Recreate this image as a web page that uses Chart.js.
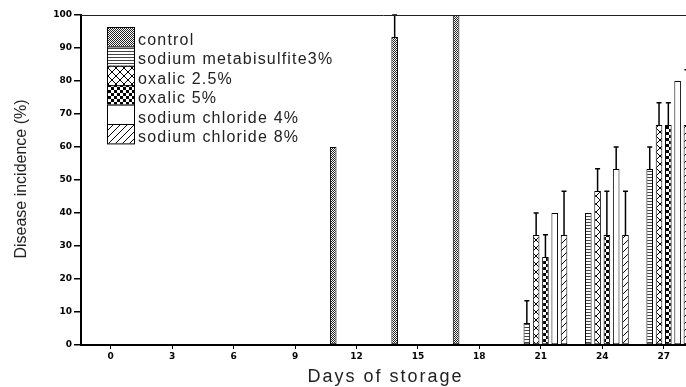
<!DOCTYPE html>
<html>
<head>
<meta charset="utf-8">
<script src="https://cdn.jsdelivr.net/npm/chart.js@4.4.1/dist/chart.umd.min.js"></script>
<style>
  html, body { margin: 0; padding: 0; background: #fff; }
</style>
</head>
<body>
<canvas id="incidenceChart" width="686" height="387"></canvas>
<script>
// days of storage (x axis) and bar values
const days = [0, 3, 6, 9, 12, 15, 18, 21, 24, 27];
const seriesNames = ["control", "sodium metabisulfite3%", "oxalic 2.5%", "oxalic 5%", "sodium chloride 4%", "sodium chloride 8%"];

const control          = [0, 0, 0, 0, 60, 93.3, 100, null, null, null];
const controlErr       = [0, 0, 0, 0, 0, 6.7, 0, null, null, null];
const metabisulfite    = [0, 0, 0, 0, 0, 0, 0, 6.7, 40, 53.3];
const metabisulfiteErr = [0, 0, 0, 0, 0, 0, 0, 6.7, 0, 6.7];
const oxalic25         = [0, 0, 0, 0, 0, 0, 0, 33.3, 46.7, 66.7];
const oxalic25Err      = [0, 0, 0, 0, 0, 0, 0, 6.7, 6.7, 6.7];
const oxalic5          = [0, 0, 0, 0, 0, 0, 0, 26.7, 33.3, 66.7];
const oxalic5Err       = [0, 0, 0, 0, 0, 0, 0, 6.7, 13.3, 6.7];
const nacl4            = [0, 0, 0, 0, 0, 0, 0, 40, 53.3, 80];
const nacl4Err         = [0, 0, 0, 0, 0, 0, 0, 0, 6.7, 0];
const nacl8            = [0, 0, 0, 0, 0, 0, 0, 33.3, 33.3, 66.7];
const nacl8Err         = [0, 0, 0, 0, 0, 0, 0, 13.3, 13.3, 16.7];

const yTicks = [0, 10, 20, 30, 40, 50, 60, 70, 80, 90, 100];

// ---- hatch patterns ----
function makePattern(w, h, paint) {
    const c = document.createElement("canvas");
    c.width = w; c.height = h;
    const g = c.getContext("2d");
    g.fillStyle = "#fff";
    g.fillRect(0, 0, w, h);
    g.fillStyle = "#000";
    g.strokeStyle = "#000";
    paint(g, w, h);
    return document.getElementById("incidenceChart").getContext("2d").createPattern(c, "repeat");
}

const fineChecker = makePattern(2, 2, (g) => {
    g.fillStyle = "#222";
    g.fillRect(0, 0, 1, 1);
    g.fillRect(1, 1, 1, 1);
});
const hLines = makePattern(3, 3, (g) => {
    g.fillStyle = "#444";
    g.fillRect(0, 0, 3, 1);
});
const crossHatch = makePattern(8, 8, (g) => {
    g.lineWidth = 1;
    g.beginPath();
    g.moveTo(0, 0); g.lineTo(8, 8);
    g.moveTo(8, 0); g.lineTo(0, 8);
    g.stroke();
});
const bigChecker = makePattern(6, 6, (g) => {
    g.fillRect(0, 0, 3, 3);
    g.fillRect(3, 3, 3, 3);
});
const diagLines = makePattern(7, 7, (g) => {
    g.lineWidth = 1;
    g.beginPath();
    g.moveTo(-1, 8); g.lineTo(8, -1);
    g.moveTo(-1, 1); g.lineTo(1, -1);
    g.moveTo(6, 8); g.lineTo(8, 6);
    g.stroke();
});

// ---- plugins ----
const errorBars = {
    id: "errorBars",
    afterDatasetsDraw(chart) {
        const ctx = chart.ctx;
        const yScale = chart.scales.y;
        ctx.save();
        ctx.strokeStyle = "#000";
        ctx.lineWidth = 1.5;
        chart.data.datasets.forEach((ds, i) => {
            const meta = chart.getDatasetMeta(i);
            meta.data.forEach((bar, j) => {
                const v = ds.data[j];
                const e = ds.errors[j];
                if (v == null || !e) return;
                const top = yScale.getPixelForValue(v + e);
                ctx.beginPath();
                ctx.moveTo(bar.x, bar.y);
                ctx.lineTo(bar.x, top);
                ctx.moveTo(bar.x - 2.5, top);
                ctx.lineTo(bar.x + 2.5, top);
                ctx.stroke();
            });
        });
        ctx.restore();
    }
};

const frameAndTitles = {
    id: "frameAndTitles",
    afterDraw(chart) {
        const ctx = chart.ctx;
        const area = chart.chartArea;
        ctx.save();
        // top frame line
        ctx.strokeStyle = "#222";
        ctx.lineWidth = 1;
        ctx.beginPath();
        ctx.moveTo(area.left, area.top + 0.5);
        ctx.lineTo(area.right, area.top + 0.5);
        ctx.stroke();

        // x title
        ctx.fillStyle = "#222";
        ctx.font = "18px Arial";
        ctx.letterSpacing = "2px";
        ctx.textAlign = "center";
        ctx.textBaseline = "middle";
        ctx.fillText("Days of storage", (area.left + area.right) / 2 + 2, 377);

        // y title
        ctx.letterSpacing = "0px";
        ctx.font = "16px Arial";
        ctx.translate(22, (area.top + area.bottom) / 2 - 1);
        ctx.rotate(-Math.PI / 2);
        ctx.fillText("Disease incidence (%)", 0, 0);
        ctx.restore();
    }
};

const boxLegend = {
    id: "boxLegend",
    afterDraw(chart) {
        const ctx = chart.ctx;
        const rowH = 19.4;
        ctx.save();
        chart.data.datasets.forEach((ds, i) => {
            const top = 27 + i * rowH;
            ctx.fillStyle = ds.backgroundColor;
            ctx.fillRect(107, top, 27, rowH);
            ctx.strokeStyle = "#000";
            ctx.lineWidth = 1;
            ctx.strokeRect(107.5, top + 0.5, 27, rowH);
            ctx.fillStyle = "#222";
            ctx.font = "16px Arial";
            ctx.letterSpacing = "1.2px";
            ctx.textAlign = "left";
            ctx.textBaseline = "alphabetic";
            ctx.fillText(ds.label, 138, top + rowH - 1.5);
        });
        ctx.restore();
    }
};

const fills = [fineChecker, hLines, crossHatch, bigChecker, "#fff", diagLines];
const values = [control, metabisulfite, oxalic25, oxalic5, nacl4, nacl8];
const errs = [controlErr, metabisulfiteErr, oxalic25Err, oxalic5Err, nacl4Err, nacl8Err];

const tickFont = { family: "DejaVu Sans", size: 9, weight: "bold" };

new Chart("incidenceChart", {
    type: "bar",
    data: {
        labels: days,
        datasets: seriesNames.map((name, i) => ({
            label: name,
            data: values[i],
            errors: errs[i],
            backgroundColor: fills[i],
            borderColor: "#000",
            borderWidth: 1,
            borderSkipped: false,
            categoryPercentage: 0.908,
            barPercentage: 0.71
        }))
    },
    options: {
        responsive: false,
        animation: false,
        layout: { padding: { top: 15, right: 0, left: 0, bottom: 0 } },
        plugins: {
            legend: { display: false },
            tooltip: { enabled: false }
        },
        scales: {
            x: {
                type: "linear",
                min: -1.45,
                max: 28.09,
                offset: false,
                afterBuildTicks: (scale) => { scale.ticks = days.map(v => ({ value: v })); },
                afterFit: (scale) => { scale.height = 42; },
                grid: { drawOnChartArea: false, offset: false, tickLength: 4, color: "#000", lineWidth: 1 },
                border: { display: true, color: "#000", width: 2 },
                ticks: { color: "#000", padding: 2, maxRotation: 0, font: tickFont }
            },
            y: {
                min: 0,
                max: 100,
                afterBuildTicks: (scale) => { scale.ticks = yTicks.map(v => ({ value: v })); },
                afterFit: (scale) => { scale.width = 81; },
                grid: { drawOnChartArea: false, tickLength: 7, color: "#000", lineWidth: 1.5 },
                border: { display: true, color: "#000", width: 2 },
                ticks: { color: "#000", padding: 2, font: tickFont }
            }
        }
    },
    plugins: [errorBars, boxLegend, frameAndTitles]
});
</script>
</body>
</html>
